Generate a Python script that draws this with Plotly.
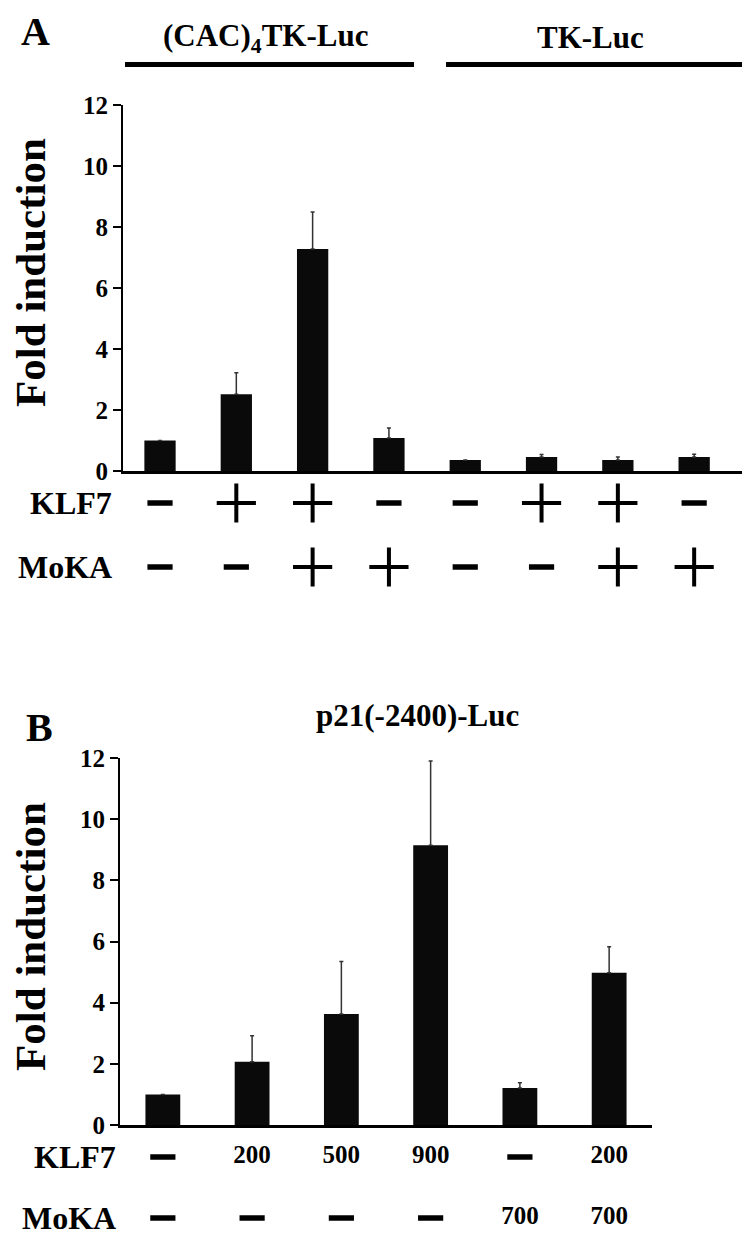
import plotly.graph_objects as go

# the page body keeps an 8px margin, so the figure is placed 8px in
OFF = 8
W, H = 750 - OFF, 1235 - OFF

# panel A: (CAC)4TK-Luc (4 bars) then TK-Luc (4 bars)
a_fold = [1.0, 2.52, 7.28, 1.08, 0.36, 0.46, 0.36, 0.46]
a_err = [0.0, 0.70, 1.21, 0.33, 0.0, 0.08, 0.10, 0.09]
a_klf7 = ["-", "+", "+", "-", "-", "+", "+", "-"]
a_moka = ["-", "-", "+", "+", "-", "-", "+", "+"]

# panel B: p21(-2400)-Luc
b_fold = [1.0, 2.07, 3.63, 9.15, 1.21, 4.98]
b_err = [0.0, 0.85, 1.72, 2.75, 0.17, 0.85]
b_klf7 = ["-", "200", "500", "900", "-", "200"]
b_moka = ["-", "-", "-", "-", "700", "700"]

y_ticks = [0, 2, 4, 6, 8, 10, 12]
row_names = ["KLF7", "MoKA"]

FONT = "Liberation Serif"


def px(x):
    return (x - OFF) / W


def py(y):
    return 1 - (y - OFF) / H


def bfont(size):
    return {"family": FONT, "size": size, "color": "black", "weight": "bold"}


def bars(vals, errs, xa, ya, width):
    return go.Bar(
        x=list(range(len(vals))), y=vals,
        xaxis=xa, yaxis=ya, width=width,
        marker={"color": "#0a0a0a", "line": {"width": 0}},
        error_y={"type": "data", "array": errs, "arrayminus": [0] * len(errs),
                 "symmetric": False, "color": "#333333", "thickness": 1.5, "width": 2},
        showlegend=False,
    )


def row(entries, rowidx, xa, ya):
    traces = []
    plus = [i for i, e in enumerate(entries) if e == "+"]
    minus = [i for i, e in enumerate(entries) if e == "-"]
    nums = [i for i, e in enumerate(entries) if e not in ("+", "-")]
    if plus:
        traces.append(go.Scatter(
            x=plus, y=[rowidx] * len(plus), xaxis=xa, yaxis=ya, mode="markers",
            marker={"symbol": "cross-thin", "size": 28, "color": "black",
                    "line": {"color": "black", "width": 4}},
            showlegend=False, cliponaxis=False))
    if minus:
        traces.append(go.Scatter(
            x=minus, y=[rowidx] * len(minus), xaxis=xa, yaxis=ya, mode="markers",
            marker={"symbol": "line-ew", "size": 18, "color": "black",
                    "line": {"color": "black", "width": 5.5}},
            showlegend=False, cliponaxis=False))
    if nums:
        traces.append(go.Scatter(
            x=nums, y=[rowidx] * len(nums), xaxis=xa, yaxis=ya, mode="text",
            text=[entries[i] for i in nums], textposition="middle center",
            textfont=bfont(25), showlegend=False, cliponaxis=False))
    return traces


fig = go.Figure()
fig.add_trace(bars(a_fold, a_err, "x", "y", 0.41))
fig.add_traces(row(a_klf7, 0, "x", "y3"))
fig.add_traces(row(a_moka, 1, "x", "y3"))
fig.add_trace(bars(b_fold, b_err, "x2", "y2", 0.39))
fig.add_traces(row(b_klf7, 0, "x2", "y4"))
fig.add_traces(row(b_moka, 1, "x2", "y4"))

yax = dict(range=[0, 12], tickvals=y_ticks, ticks="outside", ticklen=8, tickwidth=2,
           tickcolor="black", showline=True, linewidth=2, linecolor="black",
           showgrid=False, zeroline=False, tickfont=bfont(25), automargin=False)
xax = dict(showline=True, linewidth=2.5, linecolor="black", showticklabels=False,
           ticks="", showgrid=False, zeroline=False, automargin=False)

# table rows: KLF7 / MoKA pixel rows
a_r0, a_r1 = 503, 567
b_r0, b_r1 = 1157, 1218

fig.update_layout(
    template="none",
    width=W, height=H, margin={"l": 0, "r": 0, "t": 0, "b": 0, "pad": 0}, autosize=False,
    paper_bgcolor="white", plot_bgcolor="rgba(0,0,0,0)",
    xaxis=dict(xax, domain=[px(123), px(743)], range=[-0.485, 7.64], anchor="y"),
    yaxis=dict(yax, domain=[py(471), py(105)], anchor="x"),
    xaxis2=dict(xax, domain=[px(120), px(652)], range=[-0.48, 5.48], anchor="y2"),
    yaxis2=dict(yax, domain=[py(1125), py(758)], anchor="x2"),
    yaxis3=dict(domain=[py(a_r1 + 0.5 * (a_r1 - a_r0)), py(a_r0 - 0.5 * (a_r1 - a_r0))],
                range=[1.5, -0.5], anchor="x", visible=False, automargin=False),
    yaxis4=dict(domain=[py(b_r1 + 0.2 * (b_r1 - b_r0)), py(b_r0 - 0.5 * (b_r1 - b_r0))],
                range=[1.2, -0.5], anchor="x2", visible=False, automargin=False),
)

annotations = []
for i, name in enumerate(row_names):
    annotations.append(dict(x=px(114), y=i, xref="paper", yref="y3", text=name,
                            xanchor="right", yanchor="middle", showarrow=False,
                            font=bfont(32)))
    annotations.append(dict(x=px(118), y=i, xref="paper", yref="y4", text=name,
                            xanchor="right", yanchor="middle", showarrow=False,
                            font=bfont(32)))

for yc in (273, 937):
    annotations.append(dict(x=px(30), y=py(yc), xref="paper", yref="paper",
                            text="Fold induction", textangle=-90, showarrow=False,
                            xanchor="center", yanchor="middle", font=bfont(43)))

headers = [
    ("A", 35, 31, 40),
    ("(CAC)<sub>4</sub>TK-Luc", 265, 38, 31),
    ("TK-Luc", 590, 37, 31),
    ("B", 39, 727, 40),
    ("p21(-2400)-Luc", 417, 715, 31),
]
for txt, x, y, s in headers:
    annotations.append(dict(x=px(x), y=py(y), xref="paper", yref="paper", text=txt,
                            showarrow=False, xanchor="center", yanchor="middle",
                            font=bfont(s)))
fig.update_layout(annotations=annotations)

for x0, x1 in ((125, 414), (446, 747)):
    fig.add_shape(type="line", xref="paper", yref="paper", x0=px(x0), x1=px(x1),
                  y0=py(64.5), y1=py(64.5), line={"color": "black", "width": 5})

fig.write_html("out.html")
